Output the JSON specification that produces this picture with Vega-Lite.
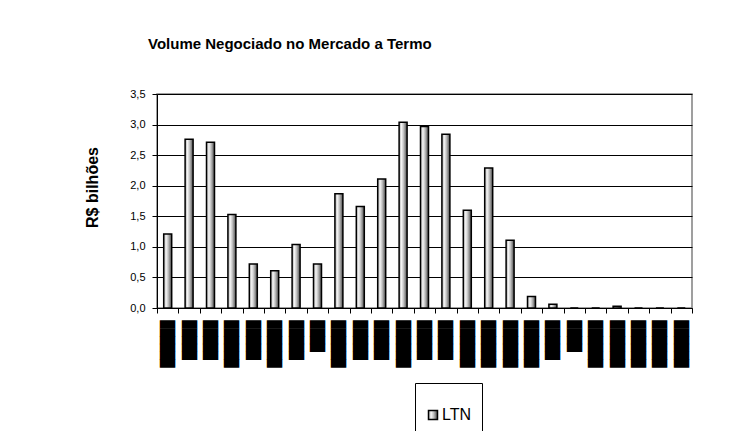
{
  "$schema": "https://vega.github.io/schema/vega-lite/v6.json",
  "width": 535,
  "height": 214,
  "autosize": {"type": "none"},
  "padding": {"left": 157, "top": 94, "right": 44, "bottom": 123},
  "background": "white",
  "title": {
    "text": "Volume Negociado no Mercado a Termo",
    "anchor": "start",
    "frame": "group",
    "dx": -9,
    "offset": 36,
    "fontSize": 15,
    "font": "Liberation Sans",
    "fontWeight": "bold",
    "color": "black"
  },
  "data": {
    "values": [
      {"periodo": 1, "serie": "LTN", "volume": 1.21},
      {"periodo": 2, "serie": "LTN", "volume": 2.76},
      {"periodo": 3, "serie": "LTN", "volume": 2.71},
      {"periodo": 4, "serie": "LTN", "volume": 1.53},
      {"periodo": 5, "serie": "LTN", "volume": 0.72},
      {"periodo": 6, "serie": "LTN", "volume": 0.61},
      {"periodo": 7, "serie": "LTN", "volume": 1.04},
      {"periodo": 8, "serie": "LTN", "volume": 0.72},
      {"periodo": 9, "serie": "LTN", "volume": 1.87},
      {"periodo": 10, "serie": "LTN", "volume": 1.66},
      {"periodo": 11, "serie": "LTN", "volume": 2.11},
      {"periodo": 12, "serie": "LTN", "volume": 3.04},
      {"periodo": 13, "serie": "LTN", "volume": 2.97},
      {"periodo": 14, "serie": "LTN", "volume": 2.84},
      {"periodo": 15, "serie": "LTN", "volume": 1.6},
      {"periodo": 16, "serie": "LTN", "volume": 2.29},
      {"periodo": 17, "serie": "LTN", "volume": 1.11},
      {"periodo": 18, "serie": "LTN", "volume": 0.19},
      {"periodo": 19, "serie": "LTN", "volume": 0.06},
      {"periodo": 20, "serie": "LTN", "volume": 0},
      {"periodo": 21, "serie": "LTN", "volume": 0},
      {"periodo": 22, "serie": "LTN", "volume": 0.03},
      {"periodo": 23, "serie": "LTN", "volume": 0},
      {"periodo": 24, "serie": "LTN", "volume": 0},
      {"periodo": 25, "serie": "LTN", "volume": 0}
    ]
  },
  "mark": {
    "type": "bar",
    "strokeWidth": 1.5,
    "width": 8,
    "fill": {
      "gradient": "linear",
      "x1": 0, "y1": 0, "x2": 1, "y2": 0,
      "stops": [
        {"offset": 0, "color": "#a8a8a8"},
        {"offset": 0.3, "color": "#f4f4f4"},
        {"offset": 0.55, "color": "#c4c4c4"},
        {"offset": 1, "color": "#4a4a4a"}
      ]
    }
  },
  "encoding": {
    "x": {
      "field": "periodo",
      "type": "ordinal",
      "scale": {"paddingInner": 0, "paddingOuter": 0},
      "axis": {
        "title": null,
        "labelAngle": -90,
        "labelFont": "DejaVu Sans Mono",
        "labelFontSize": 13,
        "labelColor": "black",
        "labelPadding": 7,
        "labelExpr": "['██████','█████','█████','██████','█████','██████','█████','████','██████','█████','█████','██████','█████','█████','██████','██████','██████','██████','█████','████','██████','██████','██████','██████','██████'][datum.value - 1]",
        "tickBand": "extent",
        "tickColor": "black",
        "tickSize": 5,
        "domainColor": "black",
        "labelOverlap": false
      }
    },
    "y": {
      "field": "volume",
      "type": "quantitative",
      "scale": {"domain": [0, 3.5], "nice": false},
      "axis": {
        "title": "R$ bilhões",
        "titleFont": "Liberation Sans",
        "titleFontSize": 16,
        "titleFontWeight": "bold",
        "titleColor": "black",
        "titleX": -65,
        "titleY": 93,
        "titleBaseline": "middle",
        "values": [0, 0.5, 1, 1.5, 2, 2.5, 3, 3.5],
        "labelExpr": "replace(format(datum.value, '.1f'), '.', ',')",
        "labelFont": "Liberation Sans",
        "labelFontSize": 11,
        "labelColor": "black",
        "labelPadding": 7,
        "tickColor": "black",
        "tickSize": 5,
        "domainColor": "black",
        "grid": true,
        "gridColor": "black",
        "gridOpacity": 1
      }
    },
    "stroke": {
      "field": "serie",
      "type": "nominal",
      "scale": {"range": ["black"]},
      "legend": {
        "orient": "none",
        "legendX": 258,
        "legendY": 289,
        "title": " ",
        "titleFontSize": 12,
        "titlePadding": 2,
        "strokeColor": "black",
        "padding": 10,
        "symbolType": "square",
        "symbolSize": 81,
        "symbolStrokeWidth": 1.5,
        "labelFont": "Liberation Sans",
        "labelFontSize": 16,
        "labelColor": "black",
        "labelOffset": 1,
        "encode": {
          "symbols": {
            "update": {
              "fill": {
                "value": {
                  "gradient": "linear",
                  "x1": 0, "y1": 0, "x2": 1, "y2": 0,
                  "stops": [
                    {"offset": 0, "color": "#a8a8a8"},
                    {"offset": 0.3, "color": "#f4f4f4"},
                    {"offset": 0.55, "color": "#c4c4c4"},
                    {"offset": 1, "color": "#4a4a4a"}
                  ]
                }
              },
              "fillOpacity": {"value": 1}
            }
          }
        }
      }
    }
  },
  "config": {
    "view": {"stroke": "#808080", "strokeWidth": 1.5},
    "font": "Liberation Sans"
  }
}
